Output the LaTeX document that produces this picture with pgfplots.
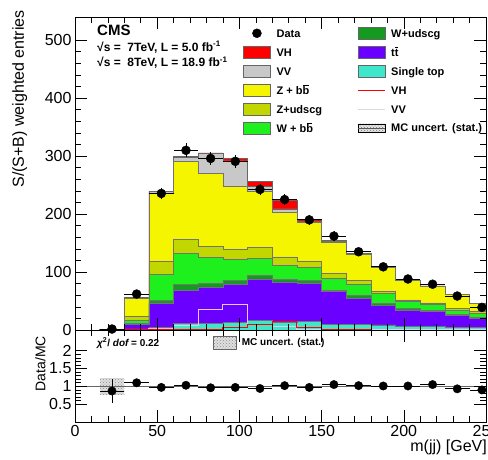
\documentclass[border=0pt]{standalone}
\usepackage{fontspec}
\setmainfont{Liberation Sans}
\usepackage{pgfplots}
\usepackage{pgfplotstable}
\pgfplotsset{compat=1.18}
\usetikzlibrary{patterns}

\definecolor{cVH}{HTML}{FF0000}
\definecolor{cVV}{HTML}{C8C8C8}
\definecolor{cZbb}{HTML}{F5F500}
\definecolor{cZud}{HTML}{C2D600}
\definecolor{cWbb}{HTML}{1EF01E}
\definecolor{cWud}{HTML}{159A20}
\definecolor{ctt}{HTML}{6A00FF}
\definecolor{cst}{HTML}{3EE6CC}
\definecolor{cVVline}{HTML}{EBC8F0}

\newcommand{\bbar}{b\llap{\rule[0.8em]{0.48em}{0.08em}\hspace{0.06em}}}
\newcommand{\tbar}{t\llap{\rule[0.78em]{0.28em}{0.08em}\hspace{0.03em}}}

% bin lower edge, then components (stack order bottom -> top)
\pgfplotstableread{
x   st   tt    wud  wbb  zud  zbb   vv   vh
15  0    0.3   0.05 0.1  0.05 0.2   0.0  0.0
30  2    8     2    5    6    32    1.5  0.3
45  4.6  41.4  5.7  44.9 21.2 118   3    0.7
60  11.5 57.5  10   53   24   135   7    1
75  11.5 63    6    44.5 18.7 126   35   1
90  12.6 66.4  7    35.8 17.9 108.3 44   4
105 17   71    5.7  29.9 18.9 96.5  9    9
120 12.6 70.4  4    25   14   77    6    14
135 15.5 65    4.5  23   11   67    1.5  4
150 10   56    3    20   8.7  54.3  1    1
165 10   44.6  5.4  19   6    46    0.7  0.3
180 9    33    4    17   4    40.5  0.5  0
195 6    28.5  2.5  12   3    33.5  0.5  0
210 6    25.6  2.9  9.5  3    28.5  0.5  0
225 5    19.7  2.9  6.9  2.5  24.5  0.5  0
240 5    14.5  2.3  6.9  2.9  13.9  0.5  0
255 5    14.5  2.3  6.9  2.9  13.9  0.5  0
}\mc

\pgfplotstableread{
x     y     ex   ey
22.5  1.7   7.5  1.5
37.5  62    7.5  6
52.5  235.6 7.5  10
67.5  310   7.5  12
82.5  296   7.5  11
97.5  291   7.5  11
112.5 242.5 7.5  10
127.5 225   7.5  10
142.5 190   7.5  9
157.5 162   7.5  8
172.5 135   7.5  7
187.5 109   7.5  6
202.5 88    7.5  6
217.5 79    7.5  5
232.5 58.6  7.5  5
247.5 39    7.5  4
}\data

\pgfplotstableread{
x     r     ex   er
22.5  0.87  7.5  0.33
37.5  1.10  7.5  0.05
52.5  0.97  7.5  0.04
67.5  1.03  7.5  0.04
82.5  0.96  7.5  0.04
97.5  0.97  7.5  0.04
112.5 0.94  7.5  0.04
127.5 1.02  7.5  0.04
142.5 0.97  7.5  0.04
157.5 1.05  7.5  0.05
172.5 1.02  7.5  0.05
187.5 1.01  7.5  0.05
202.5 1.01  7.5  0.06
217.5 1.05  7.5  0.06
232.5 0.93  7.5  0.07
247.5 0.90  7.5  0.08
}\ratio

\pgfplotsset{
 boxleg/.style={legend image code/.code={\path[draw=none,fill=none] (0pt,-6pt) rectangle (27pt,6pt);\draw[##1] (0pt,-6pt) rectangle (27pt,6pt);}},
 lineleg/.style={legend image code/.code={\path[draw=none,fill=none] (0pt,-6pt) rectangle (27pt,6pt);\draw[##1] (0pt,0pt) -- (27pt,0pt);}},
 dataleg/.style={legend image code/.code={\path[draw=none,fill=none] (0pt,-6pt) rectangle (27pt,6pt);\fill[black] (13.5pt,0pt) circle (4.5pt);}},
 uncleg/.style={legend image code/.code={\path[draw=none,fill=none] (0pt,-6pt) rectangle (27pt,6pt);\fill[black!10] (0pt,-4pt) rectangle (27pt,4pt);\fill[pattern=crosshatch dots, pattern color=black!55] (0pt,-4pt) rectangle (27pt,4pt); \draw[black!65, line width=0.6pt] (0pt,0pt) -- (27pt,0pt);}},
 legstyle/.style={legend cell align=left,
   legend style={draw=none, fill=none, inner sep=0pt, row sep=6.7pt, anchor=north west,
     font=\fontsize{11}{11}\selectfont\bfseries,
     nodes={inner sep=0pt, text height=8pt, text depth=0pt},
     /tikz/every odd column/.append style={column sep=6pt}}},
 frameaxis/.style={scale only axis, width=411pt, xmin=0, xmax=250,
   axis line style={line width=0.8pt}, tick style={black, line width=0.6pt},
   tick align=inside, major tick length=12pt, minor tick length=6pt,
   xtick={0,50,...,250}, minor x tick num=4,
   /pgf/number format/assume math mode=true,
   tick label style={font=\fontsize{16}{16}\selectfont}},
}

\begin{document}
\begin{tikzpicture}[x=1pt,y=1pt]
\useasboundingbox (0,0) rectangle (488,459);

% stacked histograms
\begin{axis}[frameaxis, hide axis, at={(75pt,129pt)}, anchor=south west, height=313pt,
  ymin=0, ymax=540, stack plots=y,
  every axis plot/.append style={const plot, draw=black!55, line width=0.5pt}]
\addplot[fill=cst] table[x=x,y=st]{\mc} \closedcycle;
\addplot[fill=ctt] table[x=x,y=tt]{\mc} \closedcycle;
\addplot[fill=cWud] table[x=x,y=wud]{\mc} \closedcycle;
\addplot[fill=cWbb] table[x=x,y=wbb]{\mc} \closedcycle;
\addplot[fill=cZud] table[x=x,y=zud]{\mc} \closedcycle;
\addplot[fill=cZbb] table[x=x,y=zbb]{\mc} \closedcycle;
\addplot[fill=cVV, draw=black!60] table[x=x,y=vv]{\mc} \closedcycle;
\addplot[fill=cVH, draw=black!60] table[x=x,y=vh]{\mc} \closedcycle;
\end{axis}

% frame, unstacked lines, data
\begin{axis}[frameaxis, at={(75pt,129pt)}, anchor=south west, height=313pt,
  ymin=0, ymax=540, ytick={0,100,...,500}, minor y tick num=4,
  xticklabels={}, axis on top]
\addplot[const plot, cVVline, line width=1pt] table[x=x,y=vv]{\mc};
\addplot[const plot, cVH, line width=1pt] table[x=x,y=vh]{\mc};
\addplot[only marks, mark=*, mark size=4.5pt, black,
  error bars/.cd, x dir=both, x explicit, y dir=both, y explicit,
  error mark=none, error bar style={line width=0.8pt}]
  table[x=x,y=y,x error=ex,y error=ey]{\data};
\end{axis}

% ratio panel
\begin{axis}[frameaxis, at={(75pt,37pt)}, anchor=south west, height=92pt,
  ymin=0, ymax=2.58, ytick={0.5,1,1.5,2}, minor y tick num=4, axis on top,
  legend style={at={(0.336,0.859)}, anchor=west, draw=none, fill=none, inner sep=0pt,
    font=\fontsize{10}{10}\selectfont\bfseries, nodes={inner sep=0pt},
    /tikz/every odd column/.append style={column sep=5pt}}]
\addplot[forget plot, draw=none, fill=black!12, postaction={pattern=crosshatch dots, pattern color=black!45}]
  coordinates {(15,0.76) (30,0.76) (30,1.22) (15,1.22)} -- cycle;
\addplot[forget plot, black!60, line width=0.7pt] coordinates {(0,1) (250,1)};
\addplot[forget plot, only marks, mark=*, mark size=4.2pt, black,
  error bars/.cd, x dir=both, x explicit, y dir=both, y explicit,
  error mark=none, error bar style={line width=0.8pt}]
  table[x=x,y=r,x error=ex,y error=er]{\ratio};
\addlegendimage{legend image code/.code={\fill[black!12] (0pt,-6.5pt) rectangle (23pt,6.5pt);\fill[pattern=crosshatch dots, pattern color=black!45] (0pt,-6.5pt) rectangle (23pt,6.5pt);\draw[black!60, line width=0.6pt] (0pt,-6.5pt) rectangle (23pt,6.5pt);}}
\addlegendentry{MC uncert. (stat.)}
\node[anchor=west, inner sep=0pt, font=\fontsize{10}{10}\selectfont\bfseries] at (rel axis cs:0.0535,0.859)
  {\itshape χ\upshape\textsuperscript{2}/ \itshape dof\upshape\ = 0.22};
\end{axis}

% legend column 1
\begin{axis}[hide axis, scale only axis, at={(0pt,0pt)}, anchor=south west, width=488pt, height=459pt,
  xmin=0, xmax=1, ymin=0, ymax=1, legstyle, legend style={at={(0.498,0.941)}}]
\addlegendimage{dataleg}\addlegendentry{Data}
\addlegendimage{boxleg, fill=cVH, draw=black!60}\addlegendentry{VH}
\addlegendimage{boxleg, fill=cVV, draw=black!60}\addlegendentry{VV}
\addlegendimage{boxleg, fill=cZbb, draw=black!60}\addlegendentry{Z + b\bbar}
\addlegendimage{boxleg, fill=cZud, draw=black!60}\addlegendentry{Z+udscg}
\addlegendimage{boxleg, fill=cWbb, draw=black!60}\addlegendentry{W + b\bbar}
\end{axis}

% legend column 2
\begin{axis}[hide axis, scale only axis, at={(0pt,0pt)}, anchor=south west, width=488pt, height=459pt,
  xmin=0, xmax=1, ymin=0, ymax=1, legstyle, legend style={at={(0.7316,0.941)}}]
\addlegendimage{boxleg, fill=cWud, draw=black!60}\addlegendentry{W+udscg}
\addlegendimage{boxleg, fill=ctt, draw=black!60}\addlegendentry{t\tbar}
\addlegendimage{boxleg, fill=cst, draw=black!60}\addlegendentry{Single top}
\addlegendimage{lineleg, cVH, line width=1pt}\addlegendentry{VH}
\addlegendimage{lineleg, black!15, line width=1pt}\addlegendentry{VV}
\addlegendimage{uncleg}\addlegendentry{MC uncert. (stat.)}
\end{axis}

% texts
\node[anchor=west, inner sep=0pt, font=\fontsize{15}{15}\selectfont\bfseries] at (97,429) {CMS};
\node[anchor=west, inner sep=0pt, font=\fontsize{12}{12}\selectfont\bfseries] at (97,412) {√s =\ \ 7TeV, L = 5.0 fb\textsuperscript{-1}};
\node[anchor=west, inner sep=0pt, font=\fontsize{12}{12}\selectfont\bfseries] at (97,396) {√s =\ \ 8TeV, L = 18.9 fb\textsuperscript{-1}};
\node[rotate=90, anchor=north east, inner sep=0pt, font=\fontsize{16}{16}\selectfont] at (12,449) {S/(S+B) weighted entries};
\node[rotate=90, anchor=north east, inner sep=0pt, font=\fontsize{14}{14}\selectfont] at (35,123) {Data/MC};
\node[anchor=base east, inner sep=0pt, font=\fontsize{16}{16}\selectfont] at (487,8) {m(jj) [GeV]};
\end{tikzpicture}
\end{document}
